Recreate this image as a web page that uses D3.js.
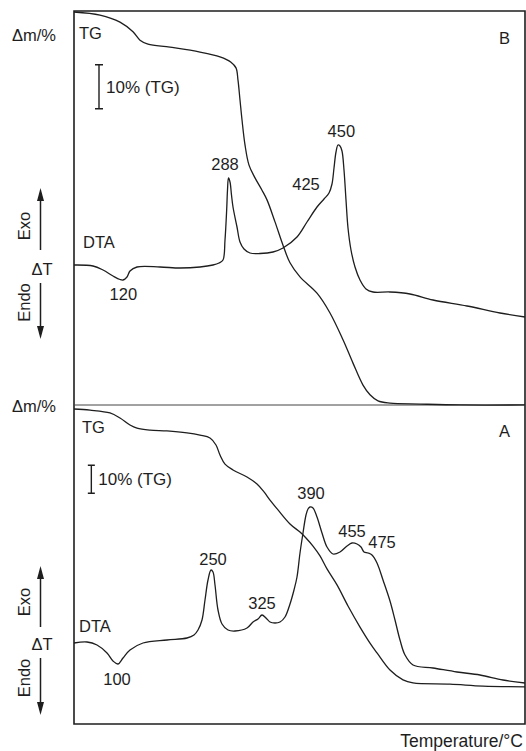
<!DOCTYPE html>
<html>
<head>
<meta charset="utf-8">
<script src="https://cdn.jsdelivr.net/npm/d3@7"></script>
<style>
  html, body { margin: 0; padding: 0; background: #fff; }
  svg { display: block; }
  text { font-family: "Liberation Sans", Arial, sans-serif; fill: #1e1e1e; }
</style>
</head>
<body>
<svg id="chart" width="526" height="751"></svg>
<script>
// temperature in °C, TG in mass %, DTA in arbitrary units (0 = baseline)
var tgB = [[26,100],[65,99.3],[95,97.7],[114.5,95.5],[125,93.6],[137,92.7],[170,92.0],[215,90.9],
    [245,89.8],[261.5,88.6],[269,87.3],[272,84.5],[275,80.0],[278,75.5],[282.5,69.8],[288.5,65.2],
    [297.5,62.3],[308,59.5],[315.5,57.3],[327.5,52.3],[339.5,47.0],[350,43.0],[365,39.8],[390.5,36.1],
    [410,31.6],[429.5,25.5],[444.5,20.2],[459.5,15.2],[470,13.0],[482,11.6],[500,11.1],[545,10.9],
    [605,10.7],[702.5,10.7]];

var dtaB = [[26,0],[54.5,-1],[69.5,-5],[84.5,-11],[95,-14.5],[99.5,-15],[105.5,-12],[110,-6],
    [120.5,-2],[155,-2],[185,-3],[215,-2],[234.5,0],[243.5,2],[249.5,5],[252.5,25],[255,55],
    [256.25,75],[257.75,87],[260,83],[262.25,70],[264.5,58],[270.5,38],[275,23],[281,16],[290,12],
    [305,11.5],[324.5,13],[339.5,17],[360.5,28],[375.5,43],[390.5,58],[401,66],[408.5,72],[413,81],
    [416,97],[419,113],[422,120],[425,119],[428,114],[431,95],[434,65],[437,37],[441.5,15],
    [447.5,-2],[455,-15],[464,-24],[474.5,-27],[500,-27],[530,-29],[564.5,-35],[615.5,-41],
    [665,-48],[702.5,-52]];

var tgA = [[26,100],[50,99.6],[80,98.6],[95,96.8],[110,94.3],[120.5,93.2],[140,92.5],[165.5,92.2],
    [195.5,91.5],[215,90.7],[230,89.7],[239,87.2],[245,83.6],[252.5,80.4],[264.5,78.3],[285.5,75.8],
    [300.5,73.3],[311,70.5],[320,67.6],[332,64.1],[350,59.1],[365,56.2],[374,54.1],[384.5,51.2],
    [395,47.7],[405.5,43.1],[420.5,37.4],[437,29.9],[455,22.4],[470,16.7],[480.5,13.2],[500,7.1],
    [519.5,3.6],[534.5,2.5],[590,2.1],[639.5,1.4],[702.5,1.1]];

var dtaA = [[26,0],[45.5,1],[60.5,-2],[75.5,-10],[84.5,-18],[92,-21],[99.5,-15],[110,-7],
    [129.5,0],[165.5,3],[195.5,5],[206,8],[212,13],[218,23],[222.5,43],[227,63],[231.5,73],
    [234.5,71],[237.5,58],[242,33],[248,19],[257,13],[267.5,12],[285.5,15],[294.5,21],[302,24],
    [308,28],[314,25],[320,21],[327.5,20],[335,21],[342.5,26],[350,39],[356,53],[360.5,66],
    [365,90],[369.5,110],[374,128],[377,134],[380,136],[384.5,135],[390.5,126],[398,110],
    [405.5,96],[414.5,89],[425,91],[435.5,97],[443,100],[450.5,99],[456.5,96],[461,91],[467,90],
    [473,88],[480.5,80],[489.5,63],[500,42],[507.5,23],[515,3],[522.5,-12],[534.5,-22],
    [564.5,-25],[600.5,-29],[635,-32],[669.5,-37],[702.5,-40]];

// peak labels: text, temperature and DTA value of the label baseline
var peaksB = [{text: "120", t: 100, v: -35}, {text: "288", t: 252.5, v: 95},
    {text: "425", t: 374, v: 75}, {text: "450", t: 427, v: 128}];
var peaksA = [{text: "100", t: 90.5, v: -42}, {text: "250", t: 234.5, v: 78},
    {text: "325", t: 308, v: 34}, {text: "390", t: 381.5, v: 144},
    {text: "455", t: 443, v: 106}, {text: "475", t: 488, v: 95}];

var svg = d3.select("#chart"),
    ink = "#1e1e1e",
    frameTop = 11, frameMid = 405, frameBottom = 724;

var x = d3.scaleLinear().domain([26, 702.5]).range([74, 525]);

var panels = [
    {name: "B", tg: tgB, dta: dtaB, peaks: peaksB,
        yTg: d3.scaleLinear().domain([100, 0]).range([12, 452]),
        yDta: d3.scaleLinear().domain([0, 100]).range([265, 165]),
        bar: {t: 63.5, from: 88, to: 78, cap: 4},
        dm: 41, tgLabel: [79, 39], dtaLabel: [83, 248], letter: 44,
        exo: [188, 250, 226], dT: 275, endo: [283, 339, 302.5]},
    {name: "A", tg: tgA, dta: dtaA, peaks: peaksA,
        yTg: d3.scaleLinear().domain([100, 0]).range([409, 690]),
        yDta: d3.scaleLinear().domain([0, 100]).range([643, 543]),
        bar: {t: 52, from: 80, to: 70, cap: 3.5},
        dm: 412, tgLabel: [82, 433], dtaLabel: [79, 632], letter: 437,
        exo: [566, 627, 602], dT: 650, endo: [658, 715, 678]}
];

// frame
svg.append("path")
    .attr("d", "M" + x.range()[0] + "," + frameTop + "H" + x.range()[1] + "V" + frameBottom +
        "H" + x.range()[0] + "Z")
    .attr("fill", "none").attr("stroke", ink).attr("stroke-width", 1.6);
svg.append("line")
    .attr("x1", x.range()[0]).attr("x2", x.range()[1])
    .attr("y1", frameMid).attr("y2", frameMid)
    .attr("stroke", "#444").attr("stroke-width", 1);

var arrow = function (xp, from, tip) {
    var dir = tip < from ? 1 : -1;
    svg.append("line")
        .attr("x1", xp).attr("x2", xp)
        .attr("y1", from).attr("y2", tip + dir * 10)
        .attr("stroke", ink).attr("stroke-width", 1.5);
    svg.append("path")
        .attr("d", "M" + xp + "," + tip + "L" + (xp - 3.5) + "," + (tip + dir * 13) +
            "L" + (xp + 3.5) + "," + (tip + dir * 13) + "Z")
        .attr("fill", ink);
};

panels.forEach(function (p) {
    var lineTg = d3.line()
            .x(function (d) { return x(d[0]); })
            .y(function (d) { return p.yTg(d[1]); })
            .curve(d3.curveCatmullRom.alpha(0.5)),
        lineDta = d3.line()
            .x(function (d) { return x(d[0]); })
            .y(function (d) { return p.yDta(d[1]); })
            .curve(d3.curveCatmullRom.alpha(0.5));

    svg.append("path").datum(p.tg).attr("d", lineTg)
        .attr("fill", "none").attr("stroke", ink).attr("stroke-width", 1.3);
    svg.append("path").datum(p.dta).attr("d", lineDta)
        .attr("fill", "none").attr("stroke", ink).attr("stroke-width", 1.3);

    svg.selectAll(".peak" + p.name)
        .data(p.peaks)
        .enter()
        .append("text")
        .attr("x", function (d) { return x(d.t); })
        .attr("y", function (d) { return p.yDta(d.v); })
        .attr("text-anchor", "middle")
        .attr("font-size", 16.5)
        .text(function (d) { return d.text; });

    // 10 % scale bar
    var bx = x(p.bar.t), b1 = p.yTg(p.bar.from), b2 = p.yTg(p.bar.to);
    svg.append("path")
        .attr("d", "M" + bx + "," + b1 + "V" + b2 +
            "M" + (bx - p.bar.cap) + "," + b1 + "H" + (bx + p.bar.cap) +
            "M" + (bx - p.bar.cap) + "," + b2 + "H" + (bx + p.bar.cap))
        .attr("stroke", ink).attr("stroke-width", 1.4).attr("fill", "none");
    svg.append("text")
        .attr("x", bx + 7).attr("y", (b1 + b2) / 2 + 6)
        .attr("font-size", 17)
        .text("10% (TG)");

    svg.append("text").attr("x", 12).attr("y", p.dm).attr("font-size", 16.5).text("\u0394m/%");
    svg.append("text").attr("x", p.tgLabel[0]).attr("y", p.tgLabel[1]).attr("font-size", 16.5).text("TG");
    svg.append("text").attr("x", p.dtaLabel[0]).attr("y", p.dtaLabel[1]).attr("font-size", 16.5).text("DTA");
    svg.append("text").attr("x", 510).attr("y", p.letter).attr("text-anchor", "end")
        .attr("font-size", 16.5).text(p.name);

    arrow(40.5, p.exo[1], p.exo[0]);
    arrow(40.5, p.endo[0], p.endo[1]);
    svg.append("text")
        .attr("transform", "translate(30," + p.exo[2] + ") rotate(-90)")
        .attr("text-anchor", "middle").attr("font-size", 16.5).text("Exo");
    svg.append("text")
        .attr("transform", "translate(30," + p.endo[2] + ") rotate(-90)")
        .attr("text-anchor", "middle").attr("font-size", 16.5).text("Endo");
    svg.append("text").attr("x", 42).attr("y", p.dT).attr("text-anchor", "middle")
        .attr("font-size", 16.5).text("\u0394T");
});

svg.append("text")
    .attr("x", 523).attr("y", 747)
    .attr("text-anchor", "end")
    .attr("font-size", 17.5)
    .text("Temperature/\u00b0C");
</script>
</body>
</html>
